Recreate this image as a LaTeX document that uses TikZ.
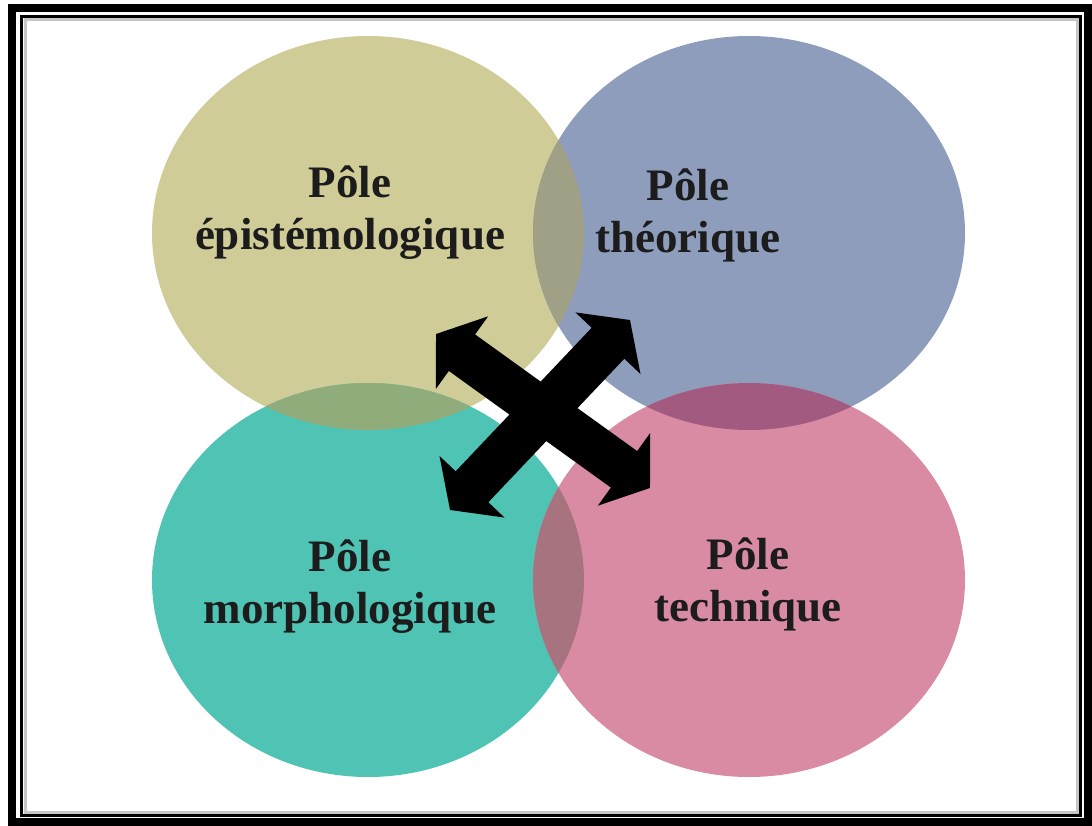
\documentclass[tikz,border=0pt]{standalone}
\usepackage{fontspec}
\setmainfont{Liberation Serif}
\usepackage{xcolor}
\usetikzlibrary{arrows.meta}
\definecolor{PoleEpist}{RGB}{207,204,152}
\definecolor{PoleTheor}{RGB}{141,157,187}
\definecolor{PoleMorph}{RGB}{ 80,196,180}
\definecolor{PoleTechn}{RGB}{217,139,164}
\definecolor{LensEpTh} {RGB}{160,160,135}
\definecolor{LensEpMo} {RGB}{143,172,122}
\definecolor{LensThTe} {RGB}{163, 90,128}
\definecolor{LensMoTe} {RGB}{166,115,127}
\definecolor{PoleText} {RGB}{ 28, 28, 28}

\begin{document}
\begin{tikzpicture}[x=1pt, y=-1pt,
    poletext/.style={font=\bfseries\fontsize{45}{52}\selectfont,
                     text=PoleText, align=center},
    crossarrow/.style={line width=45pt,
                       {Triangle[length=32pt 0, width=88pt 0]}-{Triangle[length=32pt 0, width=88pt 0]}}]
      \useasboundingbox (0,0) rectangle (1092,826);
      \fill[white] (0,0) rectangle (1092,826);
      % Four poles
      \fill[PoleEpist] (368,233) ellipse [x radius=216pt, y radius=197pt];
      \fill[PoleTheor] (749,233) ellipse [x radius=216pt, y radius=197pt];
      \fill[PoleMorph] (368,580) ellipse [x radius=216pt, y radius=197pt];
      \fill[PoleTechn] (749,580) ellipse [x radius=216pt, y radius=197pt];
      % Overlaps
      \begin{scope}
        \clip (368,233) ellipse [x radius=216pt, y radius=197pt];
        \fill[LensEpTh] (749,233) ellipse [x radius=216pt, y radius=197pt];
        \fill[LensEpMo] (368,580) ellipse [x radius=216pt, y radius=197pt];
      \end{scope}
      \begin{scope}
        \clip (749,580) ellipse [x radius=216pt, y radius=197pt];
        \fill[LensThTe] (749,233) ellipse [x radius=216pt, y radius=197pt];
        \fill[LensMoTe] (368,580) ellipse [x radius=216pt, y radius=197pt];
      \end{scope}
      % Crossed arrows
      \coordinate (armUL) at (436,334);
      \coordinate (armLR) at (650,488);
      \coordinate (armUR) at (630,320);
      \coordinate (armLL) at (450,510);
      \draw[crossarrow] (armUL) -- (armLR);
      \draw[crossarrow] (armUR) -- (armLL);
      % Labels
      \node[poletext] (epist) at (350,213) {Pôle\\épistémologique};
      \node[poletext] (theor) at (688,215) {Pôle\\théorique};
      \node[poletext] (morph) at (350,587) {Pôle\\morphologique};
      \node[poletext] (techn) at (748,584) {Pôle\\technique};
      % Frame
      \draw[gray!45, line width=3pt] (25,20) rectangle (1077,812);
      \draw[line width=3pt] (21.5,16.5) rectangle (1080.5,815.5);
      \draw[line width=8.5pt] (12,8) rectangle (1088,822);
    \end{tikzpicture}
\end{document}
